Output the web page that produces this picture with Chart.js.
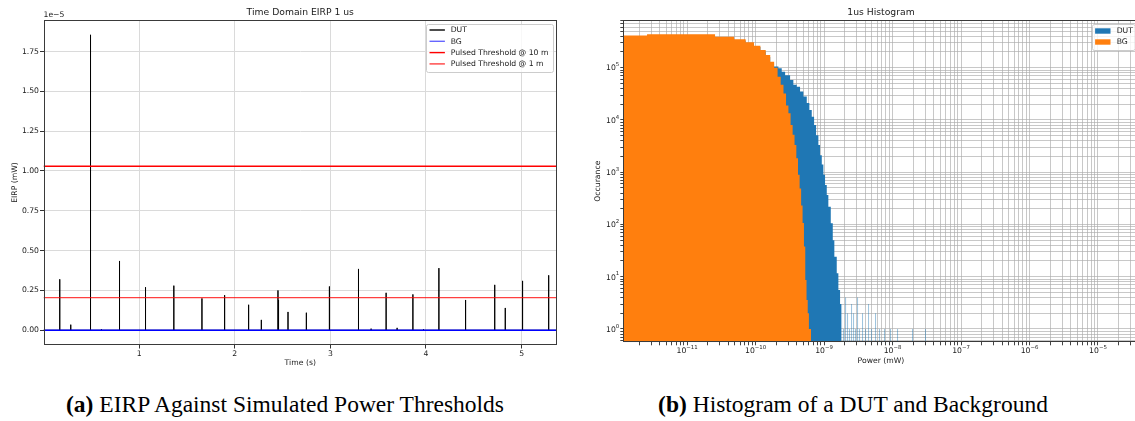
<!DOCTYPE html>
<html>
<head>
<meta charset="utf-8">
<script src="https://cdn.jsdelivr.net/npm/chart.js@4.4.1/dist/chart.umd.min.js"></script>
<style>
html,body{margin:0;padding:0;background:#fff;width:1135px;height:421px;overflow:hidden;position:relative;}
#w1{position:absolute;left:0;top:0;width:567px;height:380px;}
#w2{position:absolute;left:567px;top:0;width:575px;height:380px;}
.cap{position:absolute;top:392.5px;font-family:'Liberation Serif','Times New Roman',serif;font-size:23.5px;line-height:23.5px;color:#000;white-space:nowrap;transform:translateX(-50%);}
</style>
</head>
<body>
<div id="w1"><canvas id="c1" width="567" height="380"></canvas></div>
<div id="w2"><canvas id="c2" width="575" height="380"></canvas></div>
<div class="cap" style="left:285px"><b>(a)</b> EIRP Against Simulated Power Thresholds</div>
<div class="cap" style="left:853px"><b>(b)</b> Histogram of a DUT and Background</div>
<script>
// ---------------- data: left panel (time domain EIRP) ----------------
const spikeTimes = [0.17, 0.285, 0.49, 0.493, 0.606, 0.795, 1.067, 1.363, 1.657, 1.894, 2.145, 2.278, 2.452, 2.458, 2.557, 2.749, 2.99, 3.294, 3.426, 3.583, 3.698, 3.863, 3.974, 4.135, 4.414, 4.717, 4.72, 4.829, 5.01, 5.283];
const spikeEIRP = [0.32e-5, 0.035e-5, 0.115e-5, 1.855e-5, 0.006e-5, 0.435e-5, 0.27e-5, 0.28e-5, 0.20e-5, 0.22e-5, 0.16e-5, 0.065e-5, 0.25e-5, 0.19e-5, 0.115e-5, 0.11e-5, 0.275e-5, 0.385e-5, 0.01e-5, 0.235e-5, 0.015e-5, 0.225e-5, 0.006e-5, 0.39e-5, 0.19e-5, 0.285e-5, 0.20e-5, 0.14e-5, 0.31e-5, 0.345e-5];
const timeSpan = [0, 5.37];
const bgEIRP = [0, 0];
const thresholdNames = ['Pulsed Threshold @ 10 m', 'Pulsed Threshold @ 1 m'];
const thresholdEIRP = [1.03e-5, 0.205e-5];
const timeTicks = [1, 2, 3, 4, 5];
const eirpTicks = [0, 0.25e-5, 0.5e-5, 0.75e-5, 1.0e-5, 1.25e-5, 1.5e-5, 1.75e-5];

// ---------------- data: right panel (histogram) ----------------
const bgBinEdges = [1.0e-12, 2.6e-12, 2.56e-11, 4.86e-11, 7.16e-11, 9.46e-11, 1.176e-10, 1.406e-10, 1.636e-10, 1.866e-10, 2.096e-10, 2.326e-10, 2.556e-10, 2.786e-10, 3.016e-10, 3.246e-10, 3.476e-10, 3.706e-10, 3.936e-10, 4.166e-10, 4.396e-10, 4.626e-10, 4.856e-10, 5.086e-10, 5.316e-10, 5.546e-10, 5.776e-10, 6.006e-10, 6.236e-10, 6.466e-10];
const bgCounts = [4.15e5, 4.35e5, 3.92e5, 3.49e5, 3.06e5, 2.63e5, 2.18e5, 1.75e5, 1.30e5, 1.0e5, 6.7e4, 4.7e4, 3.2e4, 1.9e4, 1.35e4, 8.0e3, 5.2e3, 3.3e3, 1.85e3, 890, 490, 230, 107, 38, 8.7, 3.6, 2, 1, 1];
const dutBinEdges = [1.0e-12, 2.6e-12, 2.56e-11, 4.86e-11, 7.16e-11, 9.46e-11, 1.176e-10, 1.406e-10, 1.636e-10, 1.862e-10, 2.153e-10, 2.41e-10, 2.70e-10, 3.19e-10, 3.56e-10, 3.99e-10, 4.46e-10, 4.99e-10, 5.59e-10, 6.10e-10, 6.61e-10, 7.15e-10, 7.64e-10, 8.26e-10, 8.74e-10, 9.26e-10, 9.77e-10, 1.034e-9, 1.095e-9, 1.155e-9, 1.253e-9, 1.34e-9, 1.413e-9, 1.532e-9, 1.618e-9, 1.713e-9, 1.771e-9];
const dutCounts = [4.0e5, 4.1e5, 3.7e5, 3.3e5, 2.9e5, 2.5e5, 2.05e5, 1.6e5, 1.2e5, 1.05e5, 9.8e4, 8.4e4, 7.2e4, 5.8e4, 4.7e4, 4.3e4, 3.5e4, 2.8e4, 2.1e4, 1.55e4, 1.15e4, 8.0e3, 5.1e3, 3.3e3, 2.1e3, 1.4e3, 890, 570, 365, 218, 105, 50, 24, 11.6, 5.6, 3];
const dutTailLeft = [1.771e-9, 1.894e-9, 2.026e-9, 2.167e-9, 2.317e-9, 2.479e-9, 2.651e-9, 2.835e-9, 3.032e-9, 3.243e-9, 3.586e-9, 3.967e-9, 4.387e-9, 4.853e-9, 5.553e-9, 6.353e-9, 7.515e-9, 9.193e-9, 1.163e-8, 1.926e-8, 2.981e-8];
const dutTailRight = [1.832e-9, 1.959e-9, 2.096e-9, 2.241e-9, 2.397e-9, 2.563e-9, 2.742e-9, 2.932e-9, 3.136e-9, 3.353e-9, 3.709e-9, 4.102e-9, 4.537e-9, 5.019e-9, 5.743e-9, 6.570e-9, 7.772e-9, 9.508e-9, 1.203e-8, 1.992e-8, 3.083e-8];
const dutTailCounts = [3, 1, 4, 2, 1, 3, 2, 1, 4, 1, 2, 1, 3, 1, 2, 1, 1, 1, 1, 1, 1];

// ---------------- helpers ----------------
const FONT = "'DejaVu Sans', 'Liberation Sans', sans-serif";
const SMALL = 7.7, BIG = 9.24, SUPSZ = 5.4;
const TXT = '#1a1a1a';
Chart.defaults.font.family = FONT;
Chart.defaults.font.size = SMALL;
Chart.defaults.color = TXT;
const EMPTY = 1e-3; // drawing floor for an empty bin (below the visible count axis)

function pow10Exp(v) {
  const e = Math.round(Math.log10(v));
  return Math.abs(v / Math.pow(10, e) - 1) > 1e-6 ? null : e;
}
function logTicks(min, max) {
  const out = [];
  for (let e = Math.floor(Math.log10(min)); e <= Math.ceil(Math.log10(max)); e++) {
    for (let m = 1; m <= 9; m++) {
      const v = m * Math.pow(10, e);
      if (v >= min && v <= max) out.push({value: v});
    }
  }
  return out;
}
function stepPoints(edges, counts) {
  const pts = counts.map((c, i) => ({x: edges[i], y: c}));
  pts.push({x: edges[edges.length - 1], y: EMPTY});
  return pts;
}
function tailPoints(lefts, rights, counts) {
  const pts = [];
  counts.forEach((c, i) => { pts.push({x: lefts[i], y: c}); pts.push({x: rights[i], y: EMPTY}); });
  return pts;
}
// draw "10" with a raised exponent, like matplotlib mathtext
function drawPow(ctx, e, x, yMid, align) {
  const base = '10', sup = String(e).replace('-', '\u2212');
  ctx.font = SMALL + 'px ' + FONT;
  const wb = ctx.measureText(base).width;
  ctx.font = SUPSZ + 'px ' + FONT;
  const ws = ctx.measureText(sup).width;
  const w = wb + ws;
  let x0 = align === 'center' ? x - w / 2 : x - w;
  const baseLine = yMid + 2.8;
  ctx.textAlign = 'left'; ctx.textBaseline = 'alphabetic';
  ctx.font = SMALL + 'px ' + FONT;
  ctx.fillText(base, x0, baseLine);
  ctx.font = SUPSZ + 'px ' + FONT;
  ctx.fillText(sup, x0 + wb, baseLine - 4.2);
}

const decorPlugin = {
  id: 'decor',
  afterDraw(chart, args, o) {
    const ctx = chart.ctx, a = chart.chartArea;
    ctx.save();
    // frame
    ctx.strokeStyle = '#3a3a3a'; ctx.lineWidth = 1;
    ctx.strokeRect(Math.round(a.left) + 0.5, Math.round(a.top) + 0.5, Math.round(a.right) - Math.round(a.left) - 1, Math.round(a.bottom) - Math.round(a.top) - 1);
    ctx.fillStyle = TXT;
    // log tick labels
    if (o.logLabels) {
      const sx = chart.scales.x, sy = chart.scales.y;
      sx.ticks.forEach(t => {
        const e = pow10Exp(t.value);
        if (e !== null) drawPow(ctx, e, sx.getPixelForValue(t.value), o.xLabelY, 'center');
      });
      sy.ticks.forEach(t => {
        const e = pow10Exp(t.value);
        if (e !== null) drawPow(ctx, e, o.yLabelRight, sy.getPixelForValue(t.value), 'right');
      });
    }
    // title
    ctx.font = BIG + 'px ' + FONT;
    ctx.textAlign = 'center'; ctx.textBaseline = 'middle';
    ctx.fillText(o.title, (a.left + a.right) / 2, o.titleY);
    if (o.offsetText) {
      ctx.font = SMALL + 'px ' + FONT;
      ctx.textAlign = 'left';
      ctx.fillText(o.offsetText, a.left, o.offsetY);
    }
    // legend
    const L = o.legend;
    ctx.beginPath();
    ctx.roundRect(L.x0 + 0.5, L.y0 + 0.5, L.x1 - L.x0, L.y1 - L.y0, 2);
    ctx.fillStyle = 'rgba(255,255,255,0.8)'; ctx.fill();
    ctx.strokeStyle = '#cccccc'; ctx.lineWidth = 1; ctx.stroke();
    ctx.font = SMALL + 'px ' + FONT;
    ctx.textAlign = 'left'; ctx.textBaseline = 'middle';
    L.items.forEach((it, i) => {
      const y = L.firstY + i * L.dy;
      if (it.kind === 'line') {
        ctx.strokeStyle = it.color; ctx.lineWidth = it.width;
        ctx.beginPath(); ctx.moveTo(L.hx, y); ctx.lineTo(L.hx + L.hl, y); ctx.stroke();
      } else {
        ctx.fillStyle = it.color;
        ctx.fillRect(L.hx, y - 2.7, L.hl, 5.4);
      }
      ctx.fillStyle = TXT;
      ctx.fillText(it.label, L.tx, y + 0.5);
    });
    ctx.restore();
  }
};

// ---------------- left chart ----------------
const dutLine = [{x: timeSpan[0], y: 0}];
spikeTimes.forEach((t, i) => { dutLine.push({x: t, y: 0}, {x: t, y: spikeEIRP[i]}, {x: t, y: 0}); });
dutLine.push({x: timeSpan[1], y: 0});

new Chart(document.getElementById('c1'), {
  type: 'line',
  data: {
    datasets: [
      {label: thresholdNames[0], data: timeSpan.map(t => ({x: t, y: thresholdEIRP[0]})), borderColor: 'rgb(255,0,0)', borderWidth: 1.4, order: 0},
      {label: thresholdNames[1], data: timeSpan.map(t => ({x: t, y: thresholdEIRP[1]})), borderColor: 'rgba(255,0,0,0.75)', borderWidth: 1.4, order: 1},
      {label: 'BG', data: timeSpan.map((t, i) => ({x: t, y: bgEIRP[i]})), borderColor: '#0000ff', borderWidth: 1.4, order: 2},
      {label: 'DUT', data: dutLine, borderColor: '#000000', borderWidth: 1.0, order: 3}
    ]
  },
  options: {
    responsive: false, animation: false, events: [],
    layout: {padding: {top: 20, right: 10, left: 0, bottom: 0}},
    elements: {point: {radius: 0}, line: {tension: 0}},
    plugins: {
      legend: {display: false}, tooltip: {enabled: false},
      decor: {
        title: 'Time Domain EIRP 1 us', titleY: 12.5, offsetText: '1e\u22125', offsetY: 15.5,
        legend: {x0: 426, y0: 24, x1: 553, y1: 72, hx: 429.5, hl: 15.4, tx: 450.7, firstY: 30, dy: 11.3,
          items: [
            {kind: 'line', color: '#000', width: 1.4, label: 'DUT'},
            {kind: 'line', color: 'rgba(0,0,255,0.6)', width: 1.4, label: 'BG'},
            {kind: 'line', color: 'rgb(255,0,0)', width: 1.4, label: thresholdNames[0]},
            {kind: 'line', color: 'rgba(255,0,0,0.75)', width: 1.4, label: thresholdNames[1]}
          ]}
      }
    },
    scales: {
      x: {
        type: 'linear', min: timeSpan[0], max: timeSpan[1],
        afterFit(s) { s.height = 35; },
        afterBuildTicks(s) { s.ticks = timeTicks.map(v => ({value: v})); },
        ticks: {padding: 1, maxRotation: 0, minRotation: 0, autoSkip: false, callback: v => String(v)},
        grid: {color: '#dadada', lineWidth: 1, tickLength: 3.5, tickColor: '#333'},
        border: {display: false},
        title: {display: true, text: 'Time (s)', padding: {top: 0, bottom: 12.7}, font: {size: SMALL}}
      },
      y: {
        type: 'linear', min: -0.0927e-5, max: 1.948e-5,
        afterFit(s) { s.width = 43.5; },
        afterBuildTicks(s) { s.ticks = eirpTicks.map(v => ({value: v})); },
        ticks: {padding: 1, autoSkip: false, callback: v => (v / 1e-5).toFixed(2)},
        grid: {color: '#dadada', lineWidth: 1, tickLength: 3.5, tickColor: '#333'},
        border: {display: false},
        title: {display: true, text: 'EIRP (mW)', padding: {top: 10.4, bottom: 0}, font: {size: SMALL}}
      }
    }
  },
  plugins: [decorPlugin]
});

// ---------------- right chart ----------------
const X2MIN = 1.17e-12, X2MAX = 3.92e-5, Y2MIN = 0.556, Y2MAX = 8.18e5;
new Chart(document.getElementById('c2'), {
  type: 'line',
  data: {
    datasets: [
      {label: 'BG', data: stepPoints(bgBinEdges, bgCounts), stepped: true, borderWidth: 0, fill: 'start', backgroundColor: '#ff7f0e', order: 0},
      {label: 'DUT tail', data: tailPoints(dutTailLeft, dutTailRight, dutTailCounts), stepped: true, borderWidth: 0, fill: 'start', backgroundColor: 'rgba(31,119,180,0.45)', order: 1},
      {label: 'DUT', data: stepPoints(dutBinEdges, dutCounts), stepped: true, borderWidth: 0, fill: 'start', backgroundColor: '#1f77b4', order: 2}
    ]
  },
  options: {
    responsive: false, animation: false, events: [],
    layout: {padding: {top: 20, right: 3.4, left: 0, bottom: 0}},
    elements: {point: {radius: 0}, line: {tension: 0}},
    plugins: {
      legend: {display: false}, tooltip: {enabled: false},
      decor: {
        title: '1us Histogram', titleY: 12.5, logLabels: true, xLabelY: 350, yLabelRight: 619.3 - 567,
        legend: {x0: 1092 - 567, y0: 24, x1: 1134.7 - 567, y1: 50, hx: 1095.1 - 567, hl: 15.4, tx: 1116.7 - 567, firstY: 31, dy: 11,
          items: [
            {kind: 'patch', color: '#1f77b4', label: 'DUT'},
            {kind: 'patch', color: '#ff7f0e', label: 'BG'}
          ]}
      }
    },
    scales: {
      x: {
        type: 'logarithmic', min: X2MIN, max: X2MAX, z: 1,
        afterFit(s) { s.height = 37.7; },
        afterBuildTicks(s) { s.ticks = logTicks(X2MIN, X2MAX); },
        ticks: {padding: 1, maxRotation: 0, minRotation: 0, autoSkip: false, callback: () => ''},
        grid: {color: 'rgba(170,170,170,0.65)', lineWidth: 1, tickLength: 3, tickColor: '#444'},
        border: {display: false},
        title: {display: true, text: 'Power (mW)', padding: {top: 0, bottom: 14.4}, font: {size: SMALL}}
      },
      y: {
        type: 'logarithmic', min: Y2MIN, max: Y2MAX, z: 1,
        afterFit(s) { s.width = 56.3; },
        afterBuildTicks(s) { s.ticks = logTicks(Y2MIN, Y2MAX); },
        ticks: {padding: 1, autoSkip: false, callback: () => ''},
        grid: {color: 'rgba(170,170,170,0.65)', lineWidth: 1, tickLength: 3, tickColor: '#444'},
        border: {display: false},
        title: {display: true, text: 'Occurance', padding: {top: 26.4, bottom: 0}, font: {size: SMALL}}
      }
    }
  },
  plugins: [decorPlugin]
});
</script>
</body>
</html>
